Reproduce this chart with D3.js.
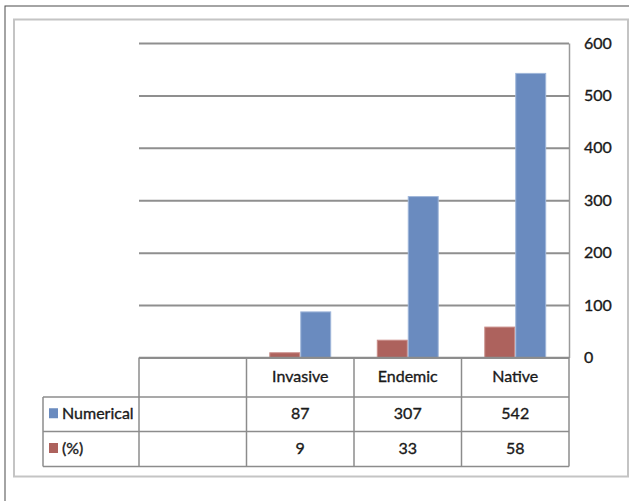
<!DOCTYPE html>
<html>
<head>
<meta charset="utf-8">
<script src="https://cdn.jsdelivr.net/npm/d3@7"></script>
<style>
  html, body { margin: 0; padding: 0; background: #fff; }
  svg { display: block; }
  text { font-family: Lato, "Open Sans", sans-serif; fill: #1a1a1a; stroke: #1a1a1a; stroke-width: 0.35px; }
</style>
</head>
<body>
<svg id="chart" width="629" height="501"></svg>
<script>
// Species counts by status, with their share of the total
const categories = ["", "Invasive", "Endemic", "Native"];
const numerical = [null, 87, 307, 542];
const percent = [null, 9, 33, 58];
const seriesNames = ["(%)", "Numerical"];
const seriesLabels = ["Numerical", "(%)"];
const yTicks = [0, 100, 200, 300, 400, 500, 600];

const colors = { "Numerical": "#6a8bbf", "(%)": "#ad625d" };
const outline = { "Numerical": "#9fb6da", "(%)": "#c98c88" };

const W = 629, H = 501;
const plot = { left: 139, right: 569, top: 43, bottom: 357.5 };
const rowH = [39.5, 34.5, 35]; // header, Numerical, (%)
const legendLeft = 43;

const svg = d3.select("#chart");

// outer frame and inner chart-area border
svg.append("rect")
  .attr("x", 5).attr("y", 6).attr("width", W + 10).attr("height", H + 10)
  .attr("fill", "none").attr("stroke", "#4a4a4a").attr("stroke-width", 1);
svg.append("rect")
  .attr("x", 14).attr("y", 19.5).attr("width", 614).attr("height", 457)
  .attr("fill", "none").attr("stroke", "#c4c4c4").attr("stroke-width", 2);

const x = d3.scaleBand().domain(categories).range([plot.left, plot.right]).padding(0);
const y = d3.scaleLinear().domain([0, 600]).range([plot.bottom, plot.top]);
const bandW = x.bandwidth();
const xs = d3.scaleBand().domain(seriesNames).range([bandW * 0.212, bandW * 0.788]).padding(0);

// gridlines + right-hand value axis
const axis = d3.axisRight(y)
  .tickValues(yTicks)
  .tickSize(-(plot.right - plot.left))
  .tickSizeOuter(0)
  .tickPadding(15);
const gAxis = svg.append("g")
  .attr("transform", `translate(${plot.right},0)`)
  .call(axis);
gAxis.select(".domain").attr("stroke", "#9a9a9a").attr("stroke-width", 1.5);
gAxis.selectAll(".tick line").attr("stroke", "#8f8f8f").attr("stroke-width", 2);
gAxis.selectAll(".tick text")
  .attr("font-size", 16).attr("fill", "#1a1a1a")
  .style("font-family", "Lato, sans-serif");

// bars
const rows = categories.map((c, i) => ({ cat: c, "Numerical": numerical[i], "(%)": percent[i] }));
const groups = svg.append("g").selectAll("g")
  .data(rows.filter(r => r.cat !== ""))
  .join("g")
  .attr("transform", d => `translate(${x(d.cat)},0)`);
groups.selectAll("rect")
  .data(d => seriesNames.map(s => ({ s, v: d[s] })))
  .join("rect")
  .attr("x", d => xs(d.s) + 0.5)
  .attr("width", xs.bandwidth() - 1)
  .attr("y", d => y(d.v))
  .attr("height", d => y(0) - y(d.v))
  .attr("fill", d => colors[d.s])
  .attr("stroke", d => outline[d.s])
  .attr("stroke-width", 1);

// data table below the plot
const table = svg.append("g");
const lineColor = "#8c8c8c";
const r0 = plot.bottom, r1 = r0 + rowH[0], r2 = r1 + rowH[1], r3 = r2 + rowH[2];

function hline(x1, x2, yy) {
  table.append("line").attr("x1", x1).attr("x2", x2).attr("y1", yy).attr("y2", yy)
    .attr("stroke", lineColor).attr("stroke-width", 1.5);
}
function vline(xx, y1, y2) {
  table.append("line").attr("x1", xx).attr("x2", xx).attr("y1", y1).attr("y2", y2)
    .attr("stroke", lineColor).attr("stroke-width", 1.5);
}
hline(plot.left, plot.right, r0);
hline(legendLeft, plot.right, r1);
hline(legendLeft, plot.right, r2);
hline(legendLeft, plot.right, r3);
vline(legendLeft, r1, r3);
categories.forEach(c => vline(x(c), r0, r3));
vline(plot.right, r0, r3);

// category header
table.selectAll("text.cat")
  .data(categories)
  .join("text")
  .attr("class", "cat")
  .attr("x", d => x(d) + bandW / 2)
  .attr("y", (r0 + r1) / 2 + 1)
  .attr("text-anchor", "middle")
  .attr("dominant-baseline", "middle")
  .attr("font-size", 16)
  .text(d => d);

// series rows: legend key + values
const tableRows = [
  { name: seriesLabels[0], key: "Numerical", vals: numerical, top: r1, bot: r2 },
  { name: seriesLabels[1], key: "(%)", vals: percent, top: r2, bot: r3 }
];
tableRows.forEach(r => {
  const cy = (r.top + r.bot) / 2;
  table.append("rect")
    .attr("x", 49).attr("y", cy - 6).attr("width", 9).attr("height", 10)
    .attr("fill", colors[r.key]);
  table.append("text")
    .attr("x", 62).attr("y", cy + 1)
    .attr("dominant-baseline", "middle")
    .attr("font-size", 16)
    .text(r.name);
  categories.forEach((c, i) => {
    if (r.vals[i] == null) return;
    table.append("text")
      .attr("x", x(c) + bandW / 2).attr("y", cy + 1)
      .attr("text-anchor", "middle")
      .attr("dominant-baseline", "middle")
      .attr("font-size", 16)
      .text(r.vals[i]);
  });
});
</script>
</body>
</html>
